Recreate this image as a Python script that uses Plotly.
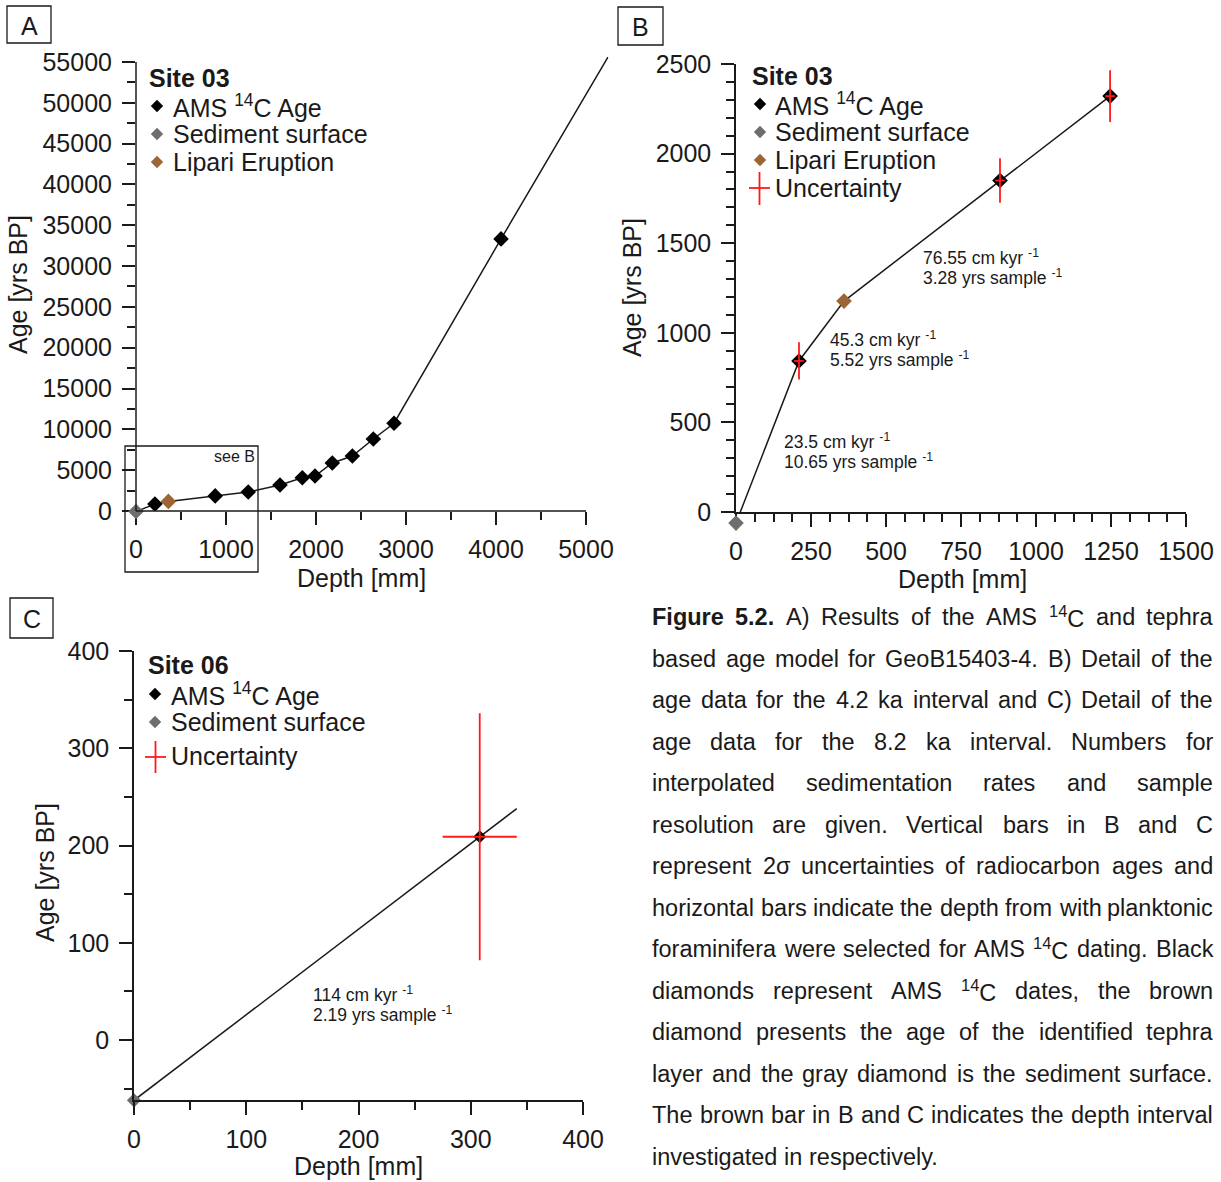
import re
import plotly.graph_objects as go

W, H = 1221, 1182
FONT = "Liberation Sans"
INK = "#1a1a1a"
RED = "#ff1a1a"
GRAY = "#6e6e6e"
BROWN = "#9c6634"

# ---------------- Site 03 (GeoB15403-4) ----------------
site03_surface_depth = [0]
site03_surface_age = [-62]
site03_lipari_depth = [360]
site03_lipari_age = [1177]
site03_ams_depth = [210, 880, 1247, 1600, 1848, 1989, 2181, 2404, 2637, 2867, 4056]
site03_ams_age = [843, 1850, 2321, 3190, 4080, 4290, 5880, 6740, 8820, 10750, 33330]
# 2 sigma age uncertainty and sampled depth interval for the dates shown in B
site03_err_depth = [210, 880, 1247]
site03_err_age = [843, 1850, 2321]
site03_err_age_pm = [104, 124, 144]
site03_err_depth_pm = [16, 16, 16]
# age model continued below the deepest date
site03_extrap_depth = [5244]
site03_extrap_age = [55610]

# ---------------- Site 06 ----------------
site06_surface_depth = [0]
site06_surface_age = [-62]
site06_ams_depth = [308]
site06_ams_age = [209]
site06_err_age_pm = [127]
site06_err_depth_pm = [33]
site06_extrap_depth = [341]
site06_extrap_age = [238]

# interpolated sedimentation rates / sample resolution
rates_b = ["76.55 cm kyr <sup>-1</sup>", "45.3 cm kyr <sup>-1</sup>", "23.5 cm kyr <sup>-1</sup>"]
resol_b = ["3.28 yrs sample <sup>-1</sup>", "5.52 yrs sample <sup>-1</sup>", "10.65 yrs sample <sup>-1</sup>"]
rates_c = ["114 cm kyr <sup>-1</sup>"]
resol_c = ["2.19 yrs sample <sup>-1</sup>"]

# ---------------- panel geometry (pixels on the page) ----------------
PANELS = {
    "A": dict(x_px=(136, 586), x_val=(0, 5000), y_px=(511, 62), y_val=(0, 55000),
              x_range=(0, 5250), y_range=(0, 55700)),
    "B": dict(x_px=(736, 1186), x_val=(0, 1500), y_px=(512, 64), y_val=(0, 2500),
              x_range=(0, 1500), y_range=(0, 2500)),
    "C": dict(x_px=(134, 583), x_val=(0, 400), y_px=(1040, 651), y_val=(0, 400),
              x_range=(0, 400), y_range=(-62, 400)),
}
# the sediment-surface age lies below the zero line in A and B; it is placed on
# hidden companion axes with the same scale but a lower start
SURFACE_Y_RANGE = {"A": (-3000, 55700), "B": (-300, 2500)}


def domain(px_pair, val_pair, rng, axis):
    scale = (px_pair[1] - px_pair[0]) / (val_pair[1] - val_pair[0])
    p0 = px_pair[0] + (rng[0] - val_pair[0]) * scale
    p1 = px_pair[0] + (rng[1] - val_pair[0]) * scale
    if axis == "x":
        return [p0 / W, p1 / W]
    return [1 - p0 / H, 1 - p1 / H]


def model_curve(depths, ages, max_depth=None):
    pts = sorted(zip(depths, ages))
    if max_depth is not None:
        pts = [p for p in pts if p[0] <= max_depth]
    return [p[0] for p in pts], [p[1] for p in pts]


DIAMOND = 12
fig = go.Figure()

# ---------------- A ----------------
a_d, a_a = model_curve(site03_surface_depth + site03_lipari_depth + site03_ams_depth + site03_extrap_depth,
                       site03_surface_age + site03_lipari_age + site03_ams_age + site03_extrap_age)
fig.add_trace(go.Scatter(x=a_d, y=a_a, mode="lines", line=dict(color=INK, width=1.5),
                         xaxis="x", yaxis="y"))
fig.add_trace(go.Scatter(x=site03_ams_depth, y=site03_ams_age, mode="markers",
                         marker=dict(symbol="diamond", size=DIAMOND, color="black"), xaxis="x", yaxis="y"))
fig.add_trace(go.Scatter(x=site03_surface_depth, y=site03_surface_age, mode="markers", cliponaxis=False,
                         marker=dict(symbol="diamond", size=DIAMOND, color=GRAY), xaxis="x", yaxis="y5"))
fig.add_trace(go.Scatter(x=site03_lipari_depth, y=site03_lipari_age, mode="markers",
                         marker=dict(symbol="diamond", size=DIAMOND, color=BROWN), xaxis="x", yaxis="y"))

# ---------------- B ----------------
b_d, b_a = model_curve(site03_surface_depth + site03_lipari_depth + site03_ams_depth,
                       site03_surface_age + site03_lipari_age + site03_ams_age,
                       max_depth=PANELS["B"]["x_range"][1])
fig.add_trace(go.Scatter(x=b_d, y=b_a, mode="lines", line=dict(color=INK, width=1.5),
                         xaxis="x2", yaxis="y2"))
b_ams = [(d, a) for d, a in zip(site03_ams_depth, site03_ams_age) if d <= PANELS["B"]["x_range"][1]]
fig.add_trace(go.Scatter(x=[p[0] for p in b_ams], y=[p[1] for p in b_ams], mode="markers",
                         marker=dict(symbol="diamond", size=DIAMOND, color="black"), xaxis="x2", yaxis="y2"))
fig.add_trace(go.Scatter(x=site03_surface_depth, y=site03_surface_age, mode="markers", cliponaxis=False,
                         marker=dict(symbol="diamond", size=DIAMOND, color=GRAY), xaxis="x2", yaxis="y6"))
fig.add_trace(go.Scatter(x=site03_lipari_depth, y=site03_lipari_age, mode="markers",
                         marker=dict(symbol="diamond", size=DIAMOND, color=BROWN), xaxis="x2", yaxis="y2"))
fig.add_trace(go.Scatter(x=site03_err_depth, y=site03_err_age, mode="markers",
                         marker=dict(size=1, color="rgba(0,0,0,0)"),
                         error_y=dict(type="data", array=site03_err_age_pm, color=RED, thickness=1.8, width=0),
                         error_x=dict(type="data", array=site03_err_depth_pm, color=RED, thickness=1.8, width=0),
                         xaxis="x2", yaxis="y2"))

# ---------------- C ----------------
c_d, c_a = model_curve(site06_surface_depth + site06_ams_depth + site06_extrap_depth,
                       site06_surface_age + site06_ams_age + site06_extrap_age)
fig.add_trace(go.Scatter(x=c_d, y=c_a, mode="lines", line=dict(color=INK, width=1.5),
                         xaxis="x3", yaxis="y3"))
fig.add_trace(go.Scatter(x=site06_ams_depth, y=site06_ams_age, mode="markers",
                         marker=dict(symbol="diamond", size=10, color="black"), xaxis="x3", yaxis="y3"))
fig.add_trace(go.Scatter(x=site06_surface_depth, y=site06_surface_age, mode="markers", cliponaxis=False,
                         marker=dict(symbol="diamond", size=11, color=GRAY), xaxis="x3", yaxis="y3"))
fig.add_trace(go.Scatter(x=site06_ams_depth, y=site06_ams_age, mode="markers",
                         marker=dict(size=1, color="rgba(0,0,0,0)"),
                         error_y=dict(type="data", array=site06_err_age_pm, color=RED, thickness=1.8, width=0),
                         error_x=dict(type="data", array=site06_err_depth_pm, color=RED, thickness=1.8, width=0),
                         xaxis="x3", yaxis="y3"))

# ---------------- legend symbols (page pixel overlay) ----------------
legend_sym = [
    (157, 106, "black"), (157, 134, GRAY), (157, 162, BROWN),
    (760, 104, "black"), (760, 132, GRAY), (760, 160, BROWN),
    (155, 694, "black"), (155, 722, GRAY),
]
fig.add_trace(go.Scatter(x=[s[0] for s in legend_sym], y=[s[1] for s in legend_sym], mode="markers",
                         marker=dict(symbol="diamond", size=9.5, color=[s[2] for s in legend_sym]),
                         xaxis="x4", yaxis="y4", cliponaxis=False))

fig.update_traces(showlegend=False, hoverinfo="skip")


def axis_style(p, axis, dtick, minor_dtick, anchor, showline):
    rng = p[axis + "_range"]
    return dict(
        domain=domain(p[axis + "_px"], p[axis + "_val"], rng, axis),
        range=list(rng), anchor=anchor, showline=showline, linecolor=INK, linewidth=1.5,
        showgrid=False, zeroline=False, mirror=False, automargin=False,
        tickmode="linear", tick0=0, dtick=dtick, tickformat="d",
        ticks="outside", ticklen=13, tickwidth=1.5, tickcolor=INK,
        ticklabelstandoff=5 if axis == "y" else 3,
        minor=dict(ticks="outside", ticklen=8, tickwidth=1.5, tickcolor=INK, dtick=minor_dtick, tick0=0,
                   showgrid=False),
        tickfont=dict(family=FONT, size=25, color=INK),
        fixedrange=True,
    )


def hidden_y(panel, anchor):
    rng = SURFACE_Y_RANGE[panel]
    p = PANELS[panel]
    return dict(domain=domain(p["y_px"], p["y_val"], rng, "y"), range=list(rng), visible=False,
                anchor=anchor, fixedrange=True, automargin=False, showgrid=False, zeroline=False)


layout = dict(
    template="none",
    width=W, height=H, autosize=False,
    margin=dict(l=0, r=0, t=0, b=0, pad=0, autoexpand=False),
    paper_bgcolor="white", plot_bgcolor="rgba(0,0,0,0)", showlegend=False,
    font=dict(family=FONT, color=INK),
    xaxis=axis_style(PANELS["A"], "x", 1000, 500, "y", False),
    yaxis=axis_style(PANELS["A"], "y", 5000, 2500, "x", False),
    xaxis2=axis_style(PANELS["B"], "x", 250, 62.5, "y2", True),
    yaxis2=axis_style(PANELS["B"], "y", 500, 100, "x2", True),
    xaxis3=axis_style(PANELS["C"], "x", 100, 50, "y3", True),
    yaxis3=axis_style(PANELS["C"], "y", 100, 50, "x3", True),
    xaxis4=dict(domain=[0, 1], range=[0, W], visible=False, anchor="y4", fixedrange=True, automargin=False),
    yaxis4=dict(domain=[0, 1], range=[H, 0], visible=False, anchor="x4", fixedrange=True, automargin=False),
    yaxis5=hidden_y("A", "x"),
    yaxis6=hidden_y("B", "x2"),
)
fig.update_layout(**layout)

shapes = []
annotations = []


def text(x, y, s, size=25, xanchor="left", angle=0, yanchor="middle"):
    annotations.append(dict(x=x, y=y, xref="x4", yref="y4", text=s, showarrow=False,
                            xanchor=xanchor, yanchor=yanchor, textangle=angle, borderpad=0,
                            font=dict(family=FONT, size=size, color=INK)))


def line(x0, y0, x1, y1, color=INK, width=1.5):
    shapes.append(dict(type="line", xref="x4", yref="y4", x0=x0, y0=y0, x1=x1, y1=y1,
                       line=dict(color=color, width=width)))


def rect(x0, y0, x1, y1):
    shapes.append(dict(type="rect", xref="x4", yref="y4", x0=x0, y0=y0, x1=x1, y1=y1,
                       line=dict(color=INK, width=1.3)))


# axis lines of A stop at the last labelled tick
pa = PANELS["A"]
line(pa["x_px"][0], pa["y_px"][0], pa["x_px"][1], pa["y_px"][0])
line(pa["x_px"][0], pa["y_px"][0], pa["x_px"][0], pa["y_px"][1])

# panel letters
for (x0, y0, x1, y1), letter in [((7, 6, 51, 43), "A"), ((618, 7, 663, 45), "B"), ((10, 598, 53, 638), "C")]:
    rect(x0, y0, x1, y1)
    text((x0 + x1) / 2, (y0 + y1) / 2 + 1, letter, xanchor="center")

# "see B" frame
rect(125, 446, 258, 572)
text(256, 456, "see B", size=16, xanchor="right")

# axis titles
for cx, cy, ax, ay in [(361, 578, 18, 285), (962, 579, 632, 288), (358, 1166, 45, 873)]:
    text(cx, cy, "Depth [mm]", xanchor="center")
    text(ax, ay, "Age [yrs BP]", xanchor="center", angle=-90)

# legends
text(148, 78, "<b>Site 03</b>")
text(172, 106, "AMS <sup>14</sup>C Age")
text(172, 134, "Sediment surface")
text(172, 162, "Lipari Eruption")

text(751, 76, "<b>Site 03</b>")
text(774, 104, "AMS <sup>14</sup>C Age")
text(774, 132, "Sediment surface")
text(774, 160, "Lipari Eruption")
text(774, 188, "Uncertainty")
line(749, 188, 770, 188, RED, 1.8)
line(759.5, 172, 759.5, 205, RED, 1.8)

text(147, 665, "<b>Site 06</b>")
text(170, 694, "AMS <sup>14</sup>C Age")
text(170, 722, "Sediment surface")
text(170, 756, "Uncertainty")
line(145, 757, 166, 757, RED, 1.8)
line(155.5, 741, 155.5, 773, RED, 1.8)

# sedimentation rate labels
for (x, y), r, s in zip([(922, 257), (829, 339), (783, 441)], rates_b, resol_b):
    text(x, y, r, size=17.5)
    text(x, y + 20, s, size=17.5)
for (x, y), r, s in zip([(312, 994)], rates_c, resol_c):
    text(x, y, r, size=17.5)
    text(x, y + 20, s, size=17.5)

# ---------------- caption (justified) ----------------
REG = dict(zip("abcdefghijklmnopqrstuvwxyz",
               [556, 556, 500, 556, 556, 278, 556, 556, 222, 222, 500, 222, 833, 556, 556, 556, 556, 333,
                500, 278, 556, 500, 722, 500, 500, 500]))
REG.update(zip("ABCDEFGHIJKLMNOPQRSTUVWXYZ",
               [667, 667, 722, 722, 667, 611, 778, 722, 278, 500, 667, 556, 833, 722, 778, 667, 778, 722,
                667, 611, 722, 667, 944, 667, 667, 611]))
REG.update({c: 556 for c in "0123456789"})
REG.update({" ": 278, ".": 278, ",": 278, ")": 333, "(": 333, "-": 333, "σ": 600})
BOLD = dict(REG)
BOLD.update({"F": 611, "i": 278, "g": 611, "u": 611, "r": 389, "e": 556})


def text_width(s, size):
    total, bold, sup = 0.0, False, False
    for tok in re.split(r"(<[^>]+>)", s):
        if tok in ("<b>", "</b>"):
            bold = tok == "<b>"
            continue
        if tok in ("<sup>", "</sup>"):
            sup = tok == "<sup>"
            continue
        table = BOLD if bold else REG
        total += sum(table.get(c, 556) for c in tok) * (0.7 if sup else 1.0)
    return total * size / 1000.0


CAPTION = [
    "<b>Figure</b> <b>5.2.</b> A) Results of the AMS <sup>14</sup>C and tephra",
    "based age model for GeoB15403-4. B) Detail of the",
    "age data for the 4.2 ka interval and C) Detail of the",
    "age data for the 8.2 ka interval. Numbers for",
    "interpolated sedimentation rates and sample",
    "resolution are given. Vertical bars in B and C",
    "represent 2σ uncertainties of radiocarbon ages and",
    "horizontal bars indicate the depth from with planktonic",
    "foraminifera were selected for AMS <sup>14</sup>C dating. Black",
    "diamonds represent AMS <sup>14</sup>C dates, the brown",
    "diamond presents the age of the identified tephra",
    "layer and the gray diamond is the sediment surface.",
    "The brown bar in B and C indicates the depth interval",
    "investigated in respectively.",
]
CAP_LEFT, CAP_RIGHT, CAP_TOP, CAP_STEP, CAP_SIZE = 651, 1212, 617, 41.54, 23.5

for i, ln in enumerate(CAPTION):
    y = CAP_TOP + i * CAP_STEP
    words = ln.split(" ")
    widths = [text_width(w, CAP_SIZE) for w in words]
    last = i == len(CAPTION) - 1
    gap = text_width(" ", CAP_SIZE) if last else (CAP_RIGHT - CAP_LEFT - sum(widths)) / (len(words) - 1)
    x = CAP_LEFT
    for w, wd in zip(words, widths):
        text(x, y, w, size=CAP_SIZE)
        x += wd + gap

fig.update_layout(shapes=shapes, annotations=annotations)
fig.write_html("out.html")
